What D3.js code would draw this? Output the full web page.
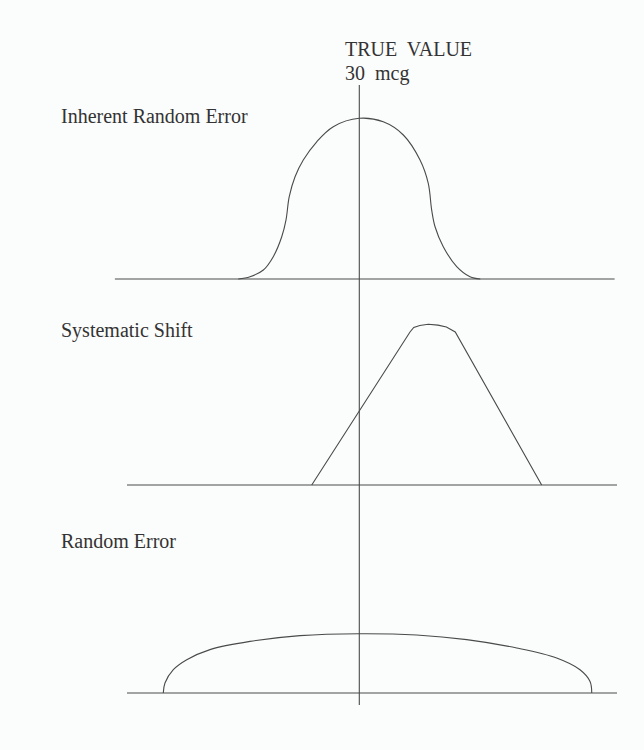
<!DOCTYPE html>
<html>
<head>
<meta charset="utf-8">
<script src="https://cdn.jsdelivr.net/npm/d3@7"></script>
<style>
  html, body { margin: 0; padding: 0; background: #fbfcfc; }
  svg { display: block; }
  text { font-family: "Liberation Serif", "Times New Roman", serif; fill: #333; }
</style>
</head>
<body>
<div id="vis"></div>
<script>
// True value of the measurement (mcg)
const trueValue = 30;
const trueLabel = ['TRUE  VALUE', '30  mcg'];

// Panel titles
const panelNames = ['Inherent Random Error', 'Systematic Shift', 'Random Error'];

// Extent of each horizontal baseline, in mcg
const baseExtent = [[9.8, 51.1], [10.8, 51.3], [10.8, 51.3]];

// Distribution outlines: x in mcg, y as relative frequency (peak of panel 1 = 1)
const inherentX = [20.0, 20.97, 22.07, 22.89, 23.59, 23.94, 24.21, 24.69, 25.37, 26.48, 27.85, 30.0,
  31.98, 33.64, 35.02, 35.70, 35.98, 36.26, 36.94, 38.05, 39.15, 40.0];
const inherentY = [0, 0.014, 0.056, 0.139, 0.263, 0.367, 0.512, 0.636, 0.740, 0.854, 0.948, 1.0,
  0.978, 0.896, 0.740, 0.595, 0.43, 0.325, 0.201, 0.077, 0.014, 0];

const shiftX = [26.07, 34.19, 34.5, 35.0, 35.7, 36.5, 37.2, 37.93, 45.07];
const shiftY = [0, 0.952, 0.98, 0.993, 1.0, 0.995, 0.983, 0.952, 0];

const randomX = [13.8, 13.94, 14.63, 15.74, 17.66, 20.97, 25.10, 30.0, 34.74, 38.88, 43.01, 46.31,
  48.24, 49.07, 49.21];
const randomY = [0, 0.062, 0.145, 0.207, 0.270, 0.321, 0.357, 0.369, 0.361, 0.332, 0.280, 0.218,
  0.145, 0.072, 0];

const width = 644, height = 750;
const ink = '#4a4a4a';

const svg = d3.select('#vis').append('svg')
  .attr('width', width)
  .attr('height', height);

// one mcg is about 12 px, true value sits at x = 359
const x = d3.scaleLinear().domain([20, 40]).range([238.3, 480.3]);

// each panel gets its own baseline, same vertical unit
const baselines = [279, 485, 693];
const unitHeight = 160.7;
const yScales = baselines.map(function (b) {
  return d3.scaleLinear().domain([0, 1]).range([b, b - unitHeight]);
});

const curves = [
  { xs: inherentX, ys: inherentY, curve: d3.curveCatmullRom.alpha(0.5) },
  { xs: shiftX, ys: shiftY, curve: d3.curveLinear },  // straight sides, small cap
  { xs: randomX, ys: randomY, curve: d3.curveCatmullRom.alpha(0.5) }
];

// true value marker line
svg.append('line')
  .attr('x1', x(trueValue)).attr('x2', x(trueValue))
  .attr('y1', 85).attr('y2', 705)
  .attr('stroke', ink)
  .attr('stroke-width', 1.1);

svg.selectAll('.true-label')
  .data(trueLabel)
  .enter().append('text')
  .attr('class', 'true-label')
  .attr('x', 345)
  .attr('y', function (d, i) { return 56 + i * 24; })
  .attr('font-size', 20)
  .style('white-space', 'pre')
  .text(function (d) { return d; });

curves.forEach(function (c, i) {
  var y = yScales[i];

  // panel title
  svg.append('text')
    .attr('x', 61)
    .attr('y', [123, 337, 548][i])
    .attr('font-size', 20)
    .text(panelNames[i]);

  // baseline
  svg.append('line')
    .attr('x1', x(baseExtent[i][0])).attr('x2', x(baseExtent[i][1]))
    .attr('y1', y(0)).attr('y2', y(0))
    .attr('stroke', ink)
    .attr('stroke-width', 1.1);

  var pts = c.xs.map(function (v, j) { return [v, c.ys[j]]; });
  var line = d3.line()
    .x(function (d) { return x(d[0]); })
    .y(function (d) { return y(d[1]); })
    .curve(c.curve);

  svg.append('path')
    .attr('d', line(pts))
    .attr('fill', 'none')
    .attr('stroke', ink)
    .attr('stroke-width', 1.1);
});
</script>
</body>
</html>
